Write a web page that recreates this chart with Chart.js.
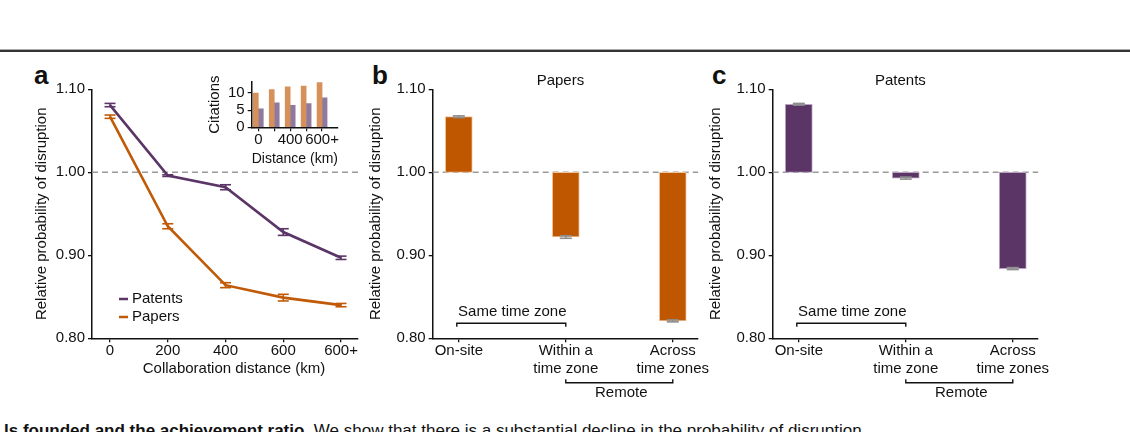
<!DOCTYPE html>
<html>
<head>
<meta charset="utf-8">
<script src="https://cdn.jsdelivr.net/npm/chart.js@4.4.1/dist/chart.umd.min.js"></script>
<style>
  html, body { margin: 0; padding: 0; background: #fff; width: 1130px; height: 432px; overflow: hidden;
    font-family: "Liberation Sans", Arial, sans-serif; color: #111; }
  canvas { position: absolute; }
  .rule { position: absolute; left: 0; top: 49px; width: 1130px; height: 2px; background: #333; border-top: 1px solid #aaa; }
  .tag { position: absolute; top: 62px; font-weight: bold; font-size: 26px; line-height: 1; }
  .caption { position: absolute; left: 4px; top: 422px; white-space: nowrap; font-size: 17px; line-height: 1; }
</style>
</head>
<body>
<div class="rule"></div>
<div class="tag" style="left:34px">a</div>
<div class="tag" style="left:372px">b</div>
<div class="tag" style="left:712px">c</div>
<canvas id="chartA" width="370" height="322" style="left:0;top:60px;width:370px;height:322px"></canvas>
<canvas id="inset" width="150" height="102" style="left:200px;top:70px;width:150px;height:102px"></canvas>
<canvas id="chartB" width="350" height="345" style="left:360px;top:60px;width:350px;height:345px"></canvas>
<canvas id="chartC" width="350" height="345" style="left:700px;top:60px;width:350px;height:345px"></canvas>
<div class="caption"><b>ls founded and the achievement ratio.</b> We show that there is a substantial decline in the probability of disruption</div>

<script>
// panel a: relative probability of disruption by collaboration distance
const distLabels = ['0', '200', '400', '600', '600+'];
const patentsA = [1.081, 0.996, 0.982, 0.928, 0.897];
const patentsAErr = [0.002, 0.001, 0.003, 0.004, 0.002];
const papersA = [1.067, 0.935, 0.864, 0.849, 0.840];
const papersAErr = [0.002, 0.003, 0.003, 0.004, 0.002];

// inset: citations by distance
const insetTickLabels = ['0', '', '400', '', '600+'];
const citePapers = [10.0, 11.0, 11.8, 12.0, 13.0];
const citePatents = [5.4, 7.1, 6.4, 6.9, 8.6];
const citeTicks = [0, 5, 10];

// panels b and c: on-site vs remote
const zoneLabels = [['On-site'], ['Within a', 'time zone'], ['Across', 'time zones']];
const papersB = [1.067, 0.922, 0.821];
const papersBErr = [0.001, 0.0015, 0.0012];
const patentsC = [1.082, 0.993, 0.884];
const patentsCErr = [0.001, 0.0012, 0.0012];

const yTicks = [0.80, 0.90, 1.00, 1.10];

const PURPLE = '#5b3566';
const ORANGE = '#c05a06';
const FONT = '15px "Liberation Sans", Arial, sans-serif';

Chart.defaults.font.family = '"Liberation Sans", Arial, sans-serif';
Chart.defaults.font.size = 15;
Chart.defaults.color = '#111';
Chart.defaults.animation = false;

function line(ctx, x1, y1, x2, y2) {
  ctx.beginPath(); ctx.moveTo(x1, y1); ctx.lineTo(x2, y2); ctx.stroke();
}

// reference line, error bars, titles, legend and brackets
function makeDecor(cfg) {
  return {
    id: 'decor',
    beforeDatasetsDraw(chart) {
      if (!cfg.refLine) return;
      const { ctx, chartArea: a, scales: { y } } = chart;
      const py = y.getPixelForValue(1);
      ctx.save();
      ctx.strokeStyle = '#9a9a9a'; ctx.lineWidth = 1.5; ctx.setLineDash([6, 4]);
      line(ctx, a.left, py, a.right, py);
      ctx.restore();
    },
    afterDatasetsDraw(chart) {
      const { ctx, scales: { x, y } } = chart;
      chart.data.datasets.forEach(ds => {
        if (!ds.errors) return;
        ctx.save();
        ctx.strokeStyle = cfg.errColor || ds.borderColor;
        ctx.lineWidth = 1.6;
        ds.data.forEach((pt, i) => {
          const v = Array.isArray(pt.y) ? pt.y[1] : pt.y;
          const px = x.getPixelForValue(pt.x);
          const t = y.getPixelForValue(v + ds.errors[i]);
          const b = y.getPixelForValue(v - ds.errors[i]);
          const w = cfg.capW || 5.5;
          line(ctx, px, t, px, b);
          line(ctx, px - w, t, px + w, t);
          line(ctx, px - w, b, px + w, b);
        });
        ctx.restore();
      });
    },
    afterDraw(chart) {
      const { ctx, chartArea: a, scales: { x } } = chart;
      ctx.save();
      ctx.font = FONT; ctx.fillStyle = '#111'; ctx.textBaseline = 'middle';
      if (cfg.title) {
        ctx.textAlign = 'center';
        ctx.fillText(cfg.title, (a.left + a.right) / 2 - 5, a.top - 8);
      }
      if (cfg.xTitle) {
        ctx.textAlign = 'center';
        ctx.fillText(cfg.xTitle, (a.left + a.right) / 2 + 9, a.bottom + 31);
      }
      if (cfg.legend) {
        chart.data.datasets.forEach((ds, i) => {
          const ly = a.bottom - 39.3 + i * 18;
          ctx.strokeStyle = ds.borderColor; ctx.lineWidth = 2.5;
          line(ctx, a.left + 27, ly, a.left + 36, ly);
          ctx.textAlign = 'left';
          ctx.fillText(ds.label, a.left + 40, ly);
        });
      }
      if (cfg.brackets) {
        ctx.strokeStyle = '#111'; ctx.lineWidth = 1.4; ctx.textAlign = 'center';
        const x0 = x.getPixelForValue(0) - 2, x1 = x.getPixelForValue(1), x2 = x.getPixelForValue(2);
        const sy = a.bottom - 15;
        ctx.beginPath();
        ctx.moveTo(x0, sy + 3.5); ctx.lineTo(x0, sy); ctx.lineTo(x1, sy); ctx.lineTo(x1, sy + 3.5);
        ctx.stroke();
        ctx.fillText('Same time zone', (x0 + x1) / 2 + 1, sy - 11);
        const ry = a.bottom + 44.4;
        ctx.beginPath();
        ctx.moveTo(x1, ry - 3.5); ctx.lineTo(x1, ry); ctx.lineTo(x2, ry); ctx.lineTo(x2, ry - 3.5);
        ctx.stroke();
        ctx.fillText('Remote', (x1 + x2) / 2 + 2, ry + 10);
      }
      ctx.restore();
    }
  };
}

function yScale(width) {
  return {
    min: 0.8, max: 1.1,
    afterBuildTicks: s => { s.ticks = yTicks.map(v => ({ value: v })); },
    afterFit: s => { s.width = width; },
    ticks: { callback: v => v.toFixed(2), padding: 3, color: '#111' },
    grid: { drawOnChartArea: false, tickLength: 4, color: '#111', lineWidth: 1.3 },
    border: { color: '#111', width: 1.5 },
    title: { display: true, text: 'Relative probability of disruption', color: '#111', padding: { top: 4, bottom: 4 } }
  };
}

// ---- panel a ----
new Chart(document.getElementById('chartA'), {
  type: 'line',
  data: {
    datasets: [
      { label: 'Patents', data: patentsA.map((v, i) => ({ x: i, y: v })), errors: patentsAErr,
        borderColor: PURPLE, borderWidth: 2.6, pointRadius: 0, tension: 0 },
      { label: 'Papers', data: papersA.map((v, i) => ({ x: i, y: v })), errors: papersAErr,
        borderColor: ORANGE, borderWidth: 2.6, pointRadius: 0, tension: 0 }
    ]
  },
  options: {
    responsive: false,
    layout: { padding: { left: 29, top: 29.3, right: 12, bottom: 0 } },
    plugins: { legend: { display: false }, tooltip: { enabled: false } },
    scales: {
      x: {
        type: 'linear', min: -0.312, max: 4.294,
        afterBuildTicks: s => { s.ticks = distLabels.map((_, i) => ({ value: i })); },
        afterFit: s => { s.height = 43.7; },
        ticks: { callback: v => distLabels[v], padding: 0, autoSkip: false, maxRotation: 0, color: '#111' },
        grid: { drawOnChartArea: false, tickLength: 4, color: '#111', lineWidth: 1.3 },
        border: { color: '#111', width: 1.5 }
      },
      y: yScale(63)
    }
  },
  plugins: [makeDecor({ refLine: true, legend: true, capW: 5.5, xTitle: 'Collaboration distance (km)' })]
});

// ---- inset ----
new Chart(document.getElementById('inset'), {
  type: 'bar',
  data: {
    datasets: [
      { label: 'Papers', data: citePapers.map((v, i) => ({ x: i, y: v })), backgroundColor: '#d6915a', barThickness: 5 },
      { label: 'Patents', data: citePatents.map((v, i) => ({ x: i, y: v })), backgroundColor: '#8f7a9f', barThickness: 5 }
    ]
  },
  options: {
    responsive: false,
    layout: { padding: { left: 2, top: 8, right: 12, bottom: 0 } },
    plugins: { legend: { display: false }, tooltip: { enabled: false } },
    scales: {
      x: {
        type: 'linear', min: -0.414, max: 5.0, offset: false,
        afterBuildTicks: s => { s.ticks = insetTickLabels.map((_, i) => ({ value: i })); },
        afterFit: s => { s.height = 44.7; },
        ticks: { callback: v => insetTickLabels[v], padding: 0, autoSkip: false, maxRotation: 0, color: '#111' },
        grid: { drawOnChartArea: false, offset: false, tickLength: 4, color: '#111', lineWidth: 1.2 },
        border: { color: '#111', width: 1.5 },
        title: { display: true, text: 'Distance (km)', color: '#111', padding: { top: 4, bottom: 4 } }
      },
      y: {
        min: 0, max: 13.2,
        afterBuildTicks: s => { s.ticks = citeTicks.map(v => ({ value: v })); },
        afterFit: s => { s.width = 49.7; },
        ticks: { padding: 3, autoSkip: false, color: '#111' },
        grid: { drawOnChartArea: false, tickLength: 4, color: '#111', lineWidth: 1.2 },
        border: { color: '#111', width: 1.5 },
        title: { display: true, text: 'Citations', color: '#111', padding: { top: 4, bottom: 4 } }
      }
    }
  }
});

// ---- panels b and c ----
function zoneChart(id, title, values, errs, color, edge) {
  return new Chart(document.getElementById(id), {
    type: 'bar',
    data: {
      datasets: [{
        label: title,
        data: values.map((v, i) => ({ x: i, y: [1, v] })),
        errors: errs,
        backgroundColor: color, borderColor: edge, borderWidth: 1, borderSkipped: false,
        barThickness: 27
      }]
    },
    options: {
      responsive: false,
      layout: { padding: { left: 3, top: 29.3, right: 10, bottom: 21.7 } },
      plugins: { legend: { display: false }, tooltip: { enabled: false } },
      scales: {
        x: {
          type: 'linear', min: -0.244, max: 2.237, offset: false,
          afterBuildTicks: s => { s.ticks = zoneLabels.map((_, i) => ({ value: i })); },
          afterFit: s => { s.height = 45; },
          ticks: { callback: v => zoneLabels[v], padding: 0, autoSkip: false, maxRotation: 0, color: '#111' },
          grid: { drawOnChartArea: false, offset: false, tickLength: 4, color: '#111', lineWidth: 1.3 },
          border: { color: '#111', width: 1.5 }
        },
        y: yScale(69.7)
      }
    },
    plugins: [makeDecor({ refLine: true, title: title, brackets: true, errColor: '#8e8e8e', capW: 6 })]
  });
}

zoneChart('chartB', 'Papers', papersB, papersBErr, '#bf5700', '#f3c49a');
zoneChart('chartC', 'Patents', patentsC, patentsCErr, PURPLE, '#b9a3bf');
</script>
</body>
</html>
